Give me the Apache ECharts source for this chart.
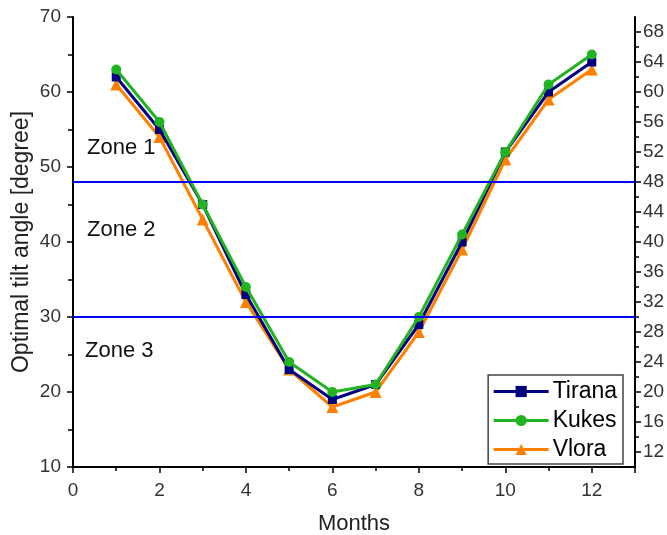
<!DOCTYPE html>
<html><head><meta charset="utf-8">
<script src="https://cdn.jsdelivr.net/npm/echarts@6/dist/echarts.min.js"></script>
<style>html,body{margin:0;padding:0;background:#fff}#c{width:667px;height:535px}</style>
</head><body><div id="c"></div>
<script>
const months = [1,2,3,4,5,6,7,8,9,10,11,12];
const tirana = [62,55,45,33,23,19,21,29,40,52,60,64];
const kukes  = [63,56,45,34,24,20,21,30,41,52,61,65];
const vlora  = [61,54,43,32,23,18,20,28,39,51,59,63];
const zoneLines = [48,30];
const zoneLabels = ['Zone 1','Zone 2','Zone 3'];
const xTickLabels = [0,2,4,6,8,10,12];
const rightTickLabels = [12,16,20,24,28,32,36,40,44,48,52,56,60,64,68];
const rightMinorTicks = [14,18,22,26,30,34,38,42,46,50,54,58,62,66];

const font = 'Liberation Sans, Arial, sans-serif';
const chart = echarts.init(document.getElementById('c'));
function pairs(arr){ return months.map((m,i)=>[m,arr[i]]); }

const opt = {
  animation:false,
  textStyle:{fontFamily:font},
  grid:{left:73,right:32,top:17,bottom:68,containLabel:false,outerBoundsMode:'none'},
  legend:{
    right:44, bottom:71, orient:'vertical', align:'left',
    borderColor:'#444', borderWidth:1.5, borderRadius:0,
    padding:[5,6,3,4], itemGap:6, itemWidth:55, itemHeight:14,
    lineStyle:{width:3},
    textStyle:{fontSize:23,color:'#000',fontFamily:font,padding:[0,0,0,-1]},
    data:['Tirana','Kukes','Vlora']
  },
  xAxis:{
    type:'value', min:0, max:13, interval:2,
    name:'Months', nameLocation:'middle', nameGap:46,
    nameTextStyle:{fontSize:22,color:'#222'},
    axisLine:{show:true,onZero:false,lineStyle:{color:'#000',width:2}},
    axisTick:{show:true,inside:false,length:6,lineStyle:{color:'#000',width:1.5}},
    minorTick:{show:true,splitNumber:2,length:4,lineStyle:{color:'#000',width:1.5}},
    axisLabel:{customValues:xTickLabels,fontSize:19,color:'#333',margin:14},
    splitLine:{show:false}
  },
  yAxis:[{
    type:'value', min:10, max:70, interval:10, position:'left',
    name:'Optimal tilt angle [degree]', nameLocation:'middle', nameGap:40,
    nameMoveOverlap:false,
    nameTextStyle:{fontSize:23,color:'#222'},
    axisLine:{show:true,lineStyle:{color:'#000',width:2}},
    axisTick:{show:true,length:6,lineStyle:{color:'#000',width:1.5}},
    minorTick:{show:true,splitNumber:2,length:5,lineStyle:{color:'#000',width:1.5}},
    axisLabel:{fontSize:19,color:'#333',margin:12},
    splitLine:{show:false}
  },{
    type:'value', min:10, max:70, interval:2, position:'right',
    axisLine:{show:true,lineStyle:{color:'#000',width:2}},
    axisTick:{show:true,length:6,customValues:rightTickLabels,lineStyle:{color:'#000',width:1.5}},
    axisLabel:{customValues:rightTickLabels,fontSize:19,color:'#333',margin:8},
    splitLine:{show:false}
  },{
    type:'value', min:10, max:70, interval:2, position:'right', offset:0,
    axisLine:{show:false},
    axisTick:{show:true,length:4,customValues:rightMinorTicks,lineStyle:{color:'#000',width:1.5}},
    axisLabel:{show:false},
    splitLine:{show:false}
  }],
  series:[
    {name:'Tirana',type:'line',data:pairs(tirana),symbol:'rect',symbolSize:9,
     itemStyle:{color:'#000080'},lineStyle:{width:3,color:'#000080'},z:3,
     markLine:{silent:true,symbol:'none',label:{show:false},
       lineStyle:{color:'#0000ff',width:2,type:'solid'},
       data:zoneLines.map(v=>({yAxis:v}))}},
    {name:'Kukes',type:'line',data:pairs(kukes),symbol:'circle',symbolSize:10,
     itemStyle:{color:'#22b322'},lineStyle:{width:3,color:'#22b322'},z:4},
    {name:'Vlora',type:'line',data:pairs(vlora),symbol:'triangle',symbolSize:12,
     itemStyle:{color:'#ff8000'},lineStyle:{width:3,color:'#ff8000'},z:2}
  ],
  graphic:[
    {type:'text',left:87,top:137,style:{text:zoneLabels[0],fontSize:22,fill:'#111',fontFamily:font}},
    {type:'text',left:87,top:219,style:{text:zoneLabels[1],fontSize:22,fill:'#111',fontFamily:font}},
    {type:'text',left:85,top:340,style:{text:zoneLabels[2],fontSize:22,fill:'#111',fontFamily:font}}
  ]
};
chart.setOption(opt);
</script></body></html>
